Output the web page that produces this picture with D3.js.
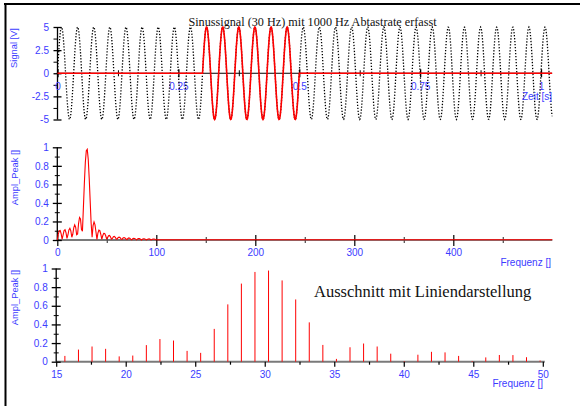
<!DOCTYPE html>
<html>
<head>
<meta charset="utf-8">
<script src="https://cdn.jsdelivr.net/npm/d3@7/dist/d3.min.js"></script>
<style>
  html, body { margin: 0; padding: 0; background: #fff; }
  svg { display: block; font-family: "Liberation Sans", Arial, sans-serif; }
</style>
</head>
<body>
<svg id="chart" width="580" height="406"></svg>
<script>
// ---- Signal: 30 Hz sine, 5 V amplitude, sampled at 1000 Hz (1024 samples) ----
const sampleRate = 1000;
const sampleCount = 1024;
// one period of the 30 Hz sine, 100 phase steps (volts)
const sineCycle = [
  0, 0.31, 0.63, 0.94, 1.24, 1.55, 1.84, 2.13, 2.41, 2.68,
  2.94, 3.19, 3.42, 3.64, 3.85, 4.05, 4.22, 4.38, 4.52, 4.65,
  4.76, 4.84, 4.91, 4.96, 4.99, 5, 4.99, 4.96, 4.91, 4.84,
  4.76, 4.65, 4.52, 4.38, 4.22, 4.05, 3.85, 3.64, 3.42, 3.19,
  2.94, 2.68, 2.41, 2.13, 1.84, 1.55, 1.24, 0.94, 0.63, 0.31,
  0, -0.31, -0.63, -0.94, -1.24, -1.55, -1.84, -2.13, -2.41, -2.68,
  -2.94, -3.19, -3.42, -3.64, -3.85, -4.05, -4.22, -4.38, -4.52, -4.65,
  -4.76, -4.84, -4.91, -4.96, -4.99, -5, -4.99, -4.96, -4.91, -4.84,
  -4.76, -4.65, -4.52, -4.38, -4.22, -4.05, -3.85, -3.64, -3.42, -3.19,
  -2.94, -2.68, -2.41, -2.13, -1.84, -1.55, -1.24, -0.94, -0.63, -0.31
];
const cycleStepsPerSample = 3;      // 30 Hz / 1000 Hz = 3/100 of a cycle per sample
const windowSamples = [300, 500];   // rectangular window (0.3 s .. 0.5 s)

// ---- Amplitude spectrum, bins of 1000/1024 Hz, bins 0..102 ----
const binWidth = 1000 / 1024;
const spectrumAmp = [
  0, 0.060, 0.099, 0.102, 0.067, 0.008, 0.056, 0.101, 0.110, 0.079,
  0.017, 0.054, 0.109, 0.126, 0.098, 0.030,
  0.062, 0.130, 0.163, 0.138, 0.057, 0.066, 0.178, 0.243, 0.227, 0.116,
  0.095, 0.352, 0.615, 0.838, 0.963, 0.978, 0.872, 0.668, 0.422, 0.180,
  0.030, 0.155, 0.195, 0.163, 0.086, 0.006, 0.075, 0.106, 0.100, 0.062,
  0.008, 0.046, 0.072, 0.071, 0.048, 0.012,
  0.026, 0.047, 0.050, 0.034, 0.009, 0.017, 0.035, 0.039, 0.029, 0.010,
  0.012, 0.027, 0.031, 0.025, 0.010, 0.007, 0.021, 0.026, 0.021, 0.010,
  0.005, 0.016, 0.022, 0.019, 0.010, 0.002, 0.013, 0.018, 0.017, 0.009,
  0.001, 0.010, 0.015, 0.015, 0.009, 0.000, 0.008, 0.013, 0.013, 0.009,
  0.001, 0.006, 0.011, 0.012, 0.008, 0.002, 0.005, 0.010, 0.011, 0.008,
  0.003
];
const spectrumTail = [[500, 0.002]];   // flat remainder up to Nyquist

// ---- Axis ticks and labels ----
const timeMajor = [0, 0.25, 0.5, 0.75, 1];
const timeMinor = [0.125, 0.375, 0.625, 0.875];
const voltMajor = [-5, -2.5, 0, 2.5, 5];
const voltMinor = [-3.75, -1.25, 1.25, 3.75];
const freqMajor = [0, 100, 200, 300, 400];
const freqMinor = [50, 150, 250, 350, 450];
const zoomMajor = [15, 20, 25, 30, 35, 40, 45, 50];
const zoomMinor = [17.5, 22.5, 27.5, 32.5, 37.5, 42.5, 47.5];
const ampMajor = [0, 0.2, 0.4, 0.6, 0.8, 1];
const ampMinor = [0.1, 0.3, 0.5, 0.7, 0.9];

const titleText = "Sinussignal (30 Hz) mit 1000 Hz Abtastrate erfasst";
const noteText = "Ausschnitt mit Liniendarstellung";

const labelBlue = "#3c3cff";
const serif = "'Liberation Serif', 'Times New Roman', serif";
const svg = d3.select("#chart");

// ---- derived series ----
const samples = d3.range(sampleCount).map(n => ({
  t: n / sampleRate,
  v: sineCycle[(cycleStepsPerSample * n) % sineCycle.length]
}));
const windowed = samples.map((d, n) => ({
  t: d.t,
  v: (n >= windowSamples[0] && n <= windowSamples[1]) ? d.v : 0
}));
const spectrum = spectrumAmp.map((a, k) => ({ f: k * binWidth, a }))
  .concat(spectrumTail.map(([f, a]) => ({ f, a })));

// ---- frame ----
svg.append("line").attr("x1", 4).attr("x2", 580).attr("y1", 4).attr("y2", 4)
  .attr("stroke", "#000").attr("stroke-width", 2);
svg.append("line").attr("x1", 5.5).attr("x2", 5.5).attr("y1", 4).attr("y2", 406)
  .attr("stroke", "#000").attr("stroke-width", 2);

function styleAxis(g, color, width) {
  g.select(".domain").remove();
  g.selectAll(".tick line").attr("stroke", color).attr("stroke-width", width);
  g.selectAll(".tick text").attr("fill", labelBlue).attr("font-size", 10)
    .style("font-family", "'Liberation Sans', Arial, sans-serif");
}
const fmt = d => String(d);

function yAxisTitle(text, cx, cy) {
  svg.append("text")
    .attr("transform", `translate(${cx},${cy}) rotate(-90)`)
    .attr("text-anchor", "middle")
    .attr("font-size", 9.3)
    .attr("fill", labelBlue)
    .text(text);
}

// =============== Panel 1: time signal ===============
const xT = d3.scaleLinear().domain([0, 1]).range([57.5, 541]);
const yT = d3.scaleLinear().domain([-5, 5]).range([119.5, 27]);

// x axis line
svg.append("line").attr("x1", xT(0)).attr("x2", xT(samples[sampleCount - 1].t))
  .attr("y1", yT(0)).attr("y2", yT(0)).attr("stroke", "#000").attr("stroke-width", 1);
// y axis line
svg.append("line").attr("x1", xT(0)).attr("x2", xT(0))
  .attr("y1", yT(5)).attr("y2", yT(-5)).attr("stroke", "#000").attr("stroke-width", 1.3);

svg.append("g").attr("transform", `translate(${xT(0) + 4},0)`)
  .call(d3.axisLeft(yT).tickValues(voltMajor).tickSize(8).tickPadding(4.5).tickFormat(fmt))
  .call(g => styleAxis(g, "#000", 1.3));
svg.append("g").attr("transform", `translate(${xT(0)},0)`)
  .call(d3.axisLeft(yT).tickValues(voltMinor).tickSize(4).tickFormat(""))
  .call(g => styleAxis(g, "#000", 1));

svg.append("g").attr("transform", `translate(0,${yT(0) - 4})`)
  .call(d3.axisBottom(xT).tickValues(timeMajor).tickSize(8).tickPadding(5.5).tickFormat(fmt))
  .call(g => styleAxis(g, "#000", 1.3));
svg.append("g").attr("transform", `translate(0,${yT(0) - 3})`)
  .call(d3.axisBottom(xT).tickValues(timeMinor).tickSize(6).tickFormat(""))
  .call(g => styleAxis(g, "#000", 1));

// sampled signal (dotted) and windowed segment (red)
const lineT = d3.line().x(d => xT(d.t)).y(d => yT(d.v));
svg.append("path").datum(samples).attr("d", lineT)
  .attr("fill", "none").attr("stroke", "#000").attr("stroke-width", 1.3)
  .attr("stroke-dasharray", "1.3,1.7");
svg.append("path").datum(windowed).attr("d", lineT)
  .attr("fill", "none").attr("stroke", "#f00").attr("stroke-width", 1.6);

svg.append("text").attr("x", 552).attr("y", 100).attr("text-anchor", "end")
  .attr("font-size", 10).attr("fill", labelBlue).text("Zeit [s]");
yAxisTitle("Signal [V]", 17, 48);

svg.append("text").attr("x", 312.5).attr("y", 25.5).attr("text-anchor", "middle")
  .style("font-family", serif)
  .attr("font-size", 12.2).attr("fill", "#111").text(titleText);

// =============== Panel 2: full spectrum ===============
const xM = d3.scaleLinear().domain([0, 500]).range([57.3, 552.3]);
const yM = d3.scaleLinear().domain([0, 1]).range([240, 147.3]);

svg.append("line").attr("x1", xM(0)).attr("x2", xM(500)).attr("y1", yM(0)).attr("y2", yM(0))
  .attr("stroke", "#7a7a7a").attr("stroke-width", 2);
svg.append("g").attr("transform", `translate(0,${yM(0) - 5})`)
  .call(d3.axisBottom(xM).tickValues(freqMajor).tickSize(11).tickPadding(3).tickFormat(fmt))
  .call(g => styleAxis(g, "#000", 1.2));
svg.append("g").attr("transform", `translate(0,${yM(0) - 3})`)
  .call(d3.axisBottom(xM).tickValues(freqMinor).tickSize(6).tickFormat(""))
  .call(g => styleAxis(g, "#555", 1.3));

svg.append("line").attr("x1", xM(0)).attr("x2", xM(0)).attr("y1", yM(1)).attr("y2", yM(0))
  .attr("stroke", "#000").attr("stroke-width", 1.3);
svg.append("g").attr("transform", `translate(${xM(0) + 4.5},0)`)
  .call(d3.axisLeft(yM).tickValues(ampMajor).tickSize(9).tickPadding(4).tickFormat(fmt))
  .call(g => styleAxis(g, "#000", 1.3));
svg.append("g").attr("transform", `translate(${xM(0) + 2.5},0)`)
  .call(d3.axisLeft(yM).tickValues(ampMinor).tickSize(5).tickFormat(""))
  .call(g => styleAxis(g, "#000", 1));

svg.append("path").datum(spectrum)
  .attr("d", d3.line().x(d => xM(d.f)).y(d => yM(d.a)))
  .attr("fill", "none").attr("stroke", "#f00").attr("stroke-width", 1.1);

svg.append("text").attr("x", 551).attr("y", 265.5).attr("text-anchor", "end")
  .attr("font-size", 10).attr("fill", labelBlue).text("Frequenz []");
yAxisTitle("Ampl_Peak []", 17.5, 177.5);

// =============== Panel 3: zoomed line spectrum ===============
const xB = d3.scaleLinear().domain([15, 50]).range([56.2, 542.8]);
const yB = d3.scaleLinear().domain([0, 1]).range([361.7, 268.5]);

svg.append("line").attr("x1", xB(15)).attr("x2", xB(50) + 2).attr("y1", yB(0)).attr("y2", yB(0))
  .attr("stroke", "#7a7a7a").attr("stroke-width", 2);
svg.append("g").attr("transform", `translate(0,${yB(0)})`)
  .call(d3.axisBottom(xB).tickValues(zoomMajor).tickSize(5).tickPadding(4).tickFormat(fmt))
  .call(g => styleAxis(g, "#000", 1.2));
svg.append("g").attr("transform", `translate(0,${yB(0)})`)
  .call(d3.axisBottom(xB).tickValues(zoomMinor).tickSize(3).tickFormat(""))
  .call(g => styleAxis(g, "#000", 1.2));

svg.append("line").attr("x1", xB(15)).attr("x2", xB(15)).attr("y1", yB(1)).attr("y2", yB(0))
  .attr("stroke", "#000").attr("stroke-width", 1.3);
svg.append("g").attr("transform", `translate(${xB(15) + 4.5},0)`)
  .call(d3.axisLeft(yB).tickValues(ampMajor).tickSize(9).tickPadding(4).tickFormat(fmt))
  .call(g => styleAxis(g, "#000", 1.3));
svg.append("g").attr("transform", `translate(${xB(15) + 2.5},0)`)
  .call(d3.axisLeft(yB).tickValues(ampMinor).tickSize(5).tickFormat(""))
  .call(g => styleAxis(g, "#000", 1));

const zoomBins = spectrum.filter(d => d.f >= 15 && d.f <= 50);
svg.append("g").selectAll("line").data(zoomBins).join("line")
  .attr("x1", d => xB(d.f)).attr("x2", d => xB(d.f))
  .attr("y1", yB(0)).attr("y2", d => yB(d.a))
  .attr("stroke", "#f00").attr("stroke-width", 1);

svg.append("text").attr("x", 543).attr("y", 387).attr("text-anchor", "end")
  .attr("font-size", 10).attr("fill", labelBlue).text("Frequenz []");
yAxisTitle("Ampl_Peak []", 17.5, 297.5);

svg.append("text").attr("x", 314).attr("y", 297).attr("text-anchor", "start")
  .style("font-family", serif)
  .attr("font-size", 16.5).attr("fill", "#111").text(noteText);
</script>
</body>
</html>
